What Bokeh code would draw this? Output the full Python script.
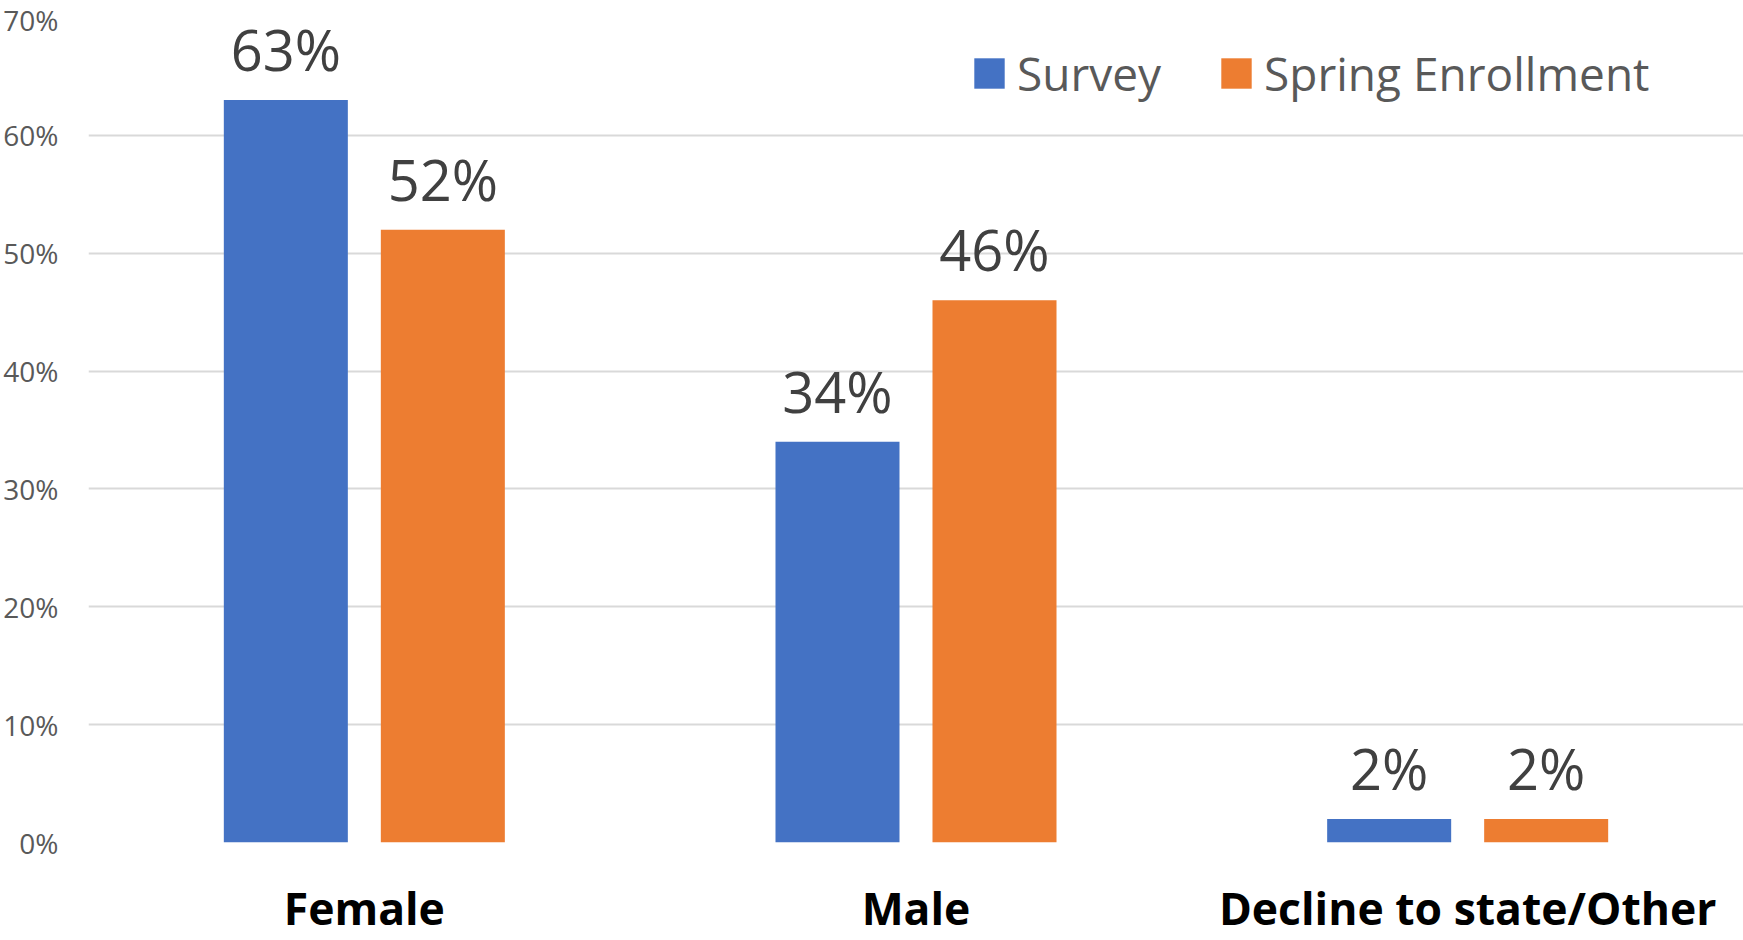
from bokeh.plotting import figure
from bokeh.models import ColumnDataSource, FactorRange, Range1d, LabelSet, Legend, LegendItem, NumeralTickFormatter, FixedTicker
from bokeh.transform import dodge
from bokeh.core.properties import value
from bokeh.embed import file_html
from bokeh.resources import INLINE

categories = ["Female", "Male", "Decline to state/Other"]
survey = [0.63, 0.34, 0.02]
spring = [0.52, 0.46, 0.02]
series_names = ["Survey", "Spring Enrollment"]
y_ticks = [0, 0.1, 0.2, 0.3, 0.4, 0.5, 0.6, 0.7]

BLUE = "#4472C4"
ORANGE = "#ED7D31"

src = ColumnDataSource(dict(
    cat=categories,
    survey=survey,
    spring=spring,
    survey_lbl=[f"{round(v*100)}%" for v in survey],
    spring_lbl=[f"{round(v*100)}%" for v in spring],
))

p = figure(width=1743, height=940, output_backend="svg", toolbar_location=None,
           x_range=FactorRange(factors=categories, range_padding=0),
           y_range=Range1d(0, 0.7),
           min_border_left=88, min_border_right=0, min_border_top=17, min_border_bottom=95)
p.outline_line_color = None
p.background_fill_color = "white"
p.border_fill_color = "white"

off = 0.1423
w = 0.2248
r1 = p.vbar(x=dodge("cat", -off, range=p.x_range), top="survey", width=w, source=src,
            fill_color=BLUE, line_color=None)
r2 = p.vbar(x=dodge("cat", off, range=p.x_range), top="spring", width=w, source=src,
            fill_color=ORANGE, line_color=None)

for col, lbl, o in [("survey", "survey_lbl", -off), ("spring", "spring_lbl", off)]:
    ls = LabelSet(x=dodge("cat", o, range=p.x_range), y=col, text=lbl, source=src,
                  text_align="center", text_baseline="alphabetic", y_offset=29,
                  text_font=value("Open Sans"), text_font_size=value("56px"),
                  text_color="#404040")
    p.add_layout(ls)

# axes
p.yaxis.ticker = FixedTicker(ticks=y_ticks)
p.yaxis.formatter = NumeralTickFormatter(format="0%")
p.yaxis.axis_line_color = None
p.yaxis.major_tick_line_color = None
p.yaxis.minor_tick_line_color = None
p.yaxis.major_tick_out = 0
p.yaxis.major_tick_in = 0
p.yaxis.minor_tick_out = 0
p.yaxis.major_label_standoff = 30
p.yaxis.major_label_text_font = "Open Sans"
p.yaxis.major_label_text_font_size = "28px"
p.yaxis.major_label_text_color = "#595959"

p.xaxis.axis_line_color = None
p.xaxis.major_tick_line_color = None
p.xaxis.minor_tick_line_color = None
p.xaxis.major_tick_out = 0
p.xaxis.major_tick_in = 0
p.xaxis.minor_tick_out = 0
p.xaxis.major_label_standoff = 34
p.xaxis.major_label_text_font = "Open Sans"
p.xaxis.major_label_text_font_style = "bold"
p.xaxis.major_label_text_font_size = "44.5px"
p.xaxis.major_label_text_color = "black"

p.xgrid.grid_line_color = None
p.ygrid.grid_line_color = "#D9D9D9"
p.ygrid.grid_line_width = 2

legend = Legend(items=[LegendItem(label=series_names[0], renderers=[r1]),
                       LegendItem(label=series_names[1], renderers=[r2])],
                orientation="horizontal", location=(882, 738),
                glyph_width=38, glyph_height=38, label_standoff=9, spacing=56,
                padding=0, margin=0, border_line_color=None, background_fill_alpha=0,
                label_text_font="Open Sans", label_text_font_size="46px",
                label_text_color="#595959")
p.add_layout(legend)

open("out.html", "w").write(file_html(p, INLINE))
